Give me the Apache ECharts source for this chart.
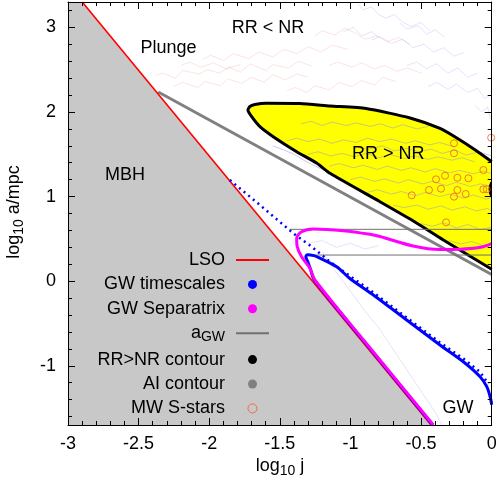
<!DOCTYPE html>
<html><head><meta charset="utf-8">
<script src="https://cdn.jsdelivr.net/npm/echarts@6/dist/echarts.min.js"></script>
<style>html,body{margin:0;padding:0;background:#fff}#c{width:503px;height:484px}</style>
</head><body><div id="c"></div>
<script>
// ---------- tick labels ----------
const yMajorTicks = [-1, 0, 1, 2, 3];
const yMinorTicks = [-1.6,-1.4,-1.2,-0.8,-0.6,-0.4,-0.2,0.2,0.4,0.6,0.8,1.2,1.4,1.6,1.8,2.2,2.4,2.6,2.8,3.2];
const legendNames = ['LSO','GW timescales','GW Separatrix','a_GW','RR>NR contour','AI contour','MW S-stars'];

// ---------- curves (log10 j, log10 a/mpc) ----------
const mbhRegion = [[-3,3.3],[-2.8993,3.3],[-0.4293,-1.7],[-3,-1.7]];
const lso = [[-2.8993,3.3],[-0.4293,-1.7]];
const aiContour = [[-2.361,2.236],[0,0.079]];
const rrTop = [[-1.712,2.065],[-1.677,2.088],[-1.594,2.103],[-1.358,2.100],[-1.145,2.071],[-0.890,2.041],[-0.578,1.929],[-0.366,1.805],[-0.247,1.692],[-0.106,1.539],[0,1.412]];
const rrBottom = [[0,0.140],[-0.342,0.487],[-0.555,0.711],[-0.791,0.939],[-1.145,1.275],[-1.240,1.397],[-1.381,1.531],[-1.547,1.708],[-1.641,1.826],[-1.698,1.941],[-1.726,2.023]];
const rrBlob = [[0,1.19],[-0.01,1.17],[-0.019,1.13],[-0.022,1.09],[-0.018,1.03],[-0.009,1.0],[0,0.99]];
const gwSeparatrix = [[-0.413,-1.7],[-0.908,-0.695],[-1.252,0.014],[-1.287,0.152],[-1.346,0.289],[-1.377,0.408],[-1.381,0.507],[-1.346,0.585],[-1.264,0.617],[-1.051,0.597],[-0.862,0.554],[-0.791,0.528],[-0.557,0.416],[-0.366,0.374],[-0.224,0.377],[-0.082,0.400],[0,0.445]];
const gwTimescale = [[-0.418,-1.7],[-0.912,-0.695],[-1.256,0.014],[-1.283,0.14],[-1.305,0.24],[-1.316,0.29],[-1.304,0.311],[-1.26,0.302],[-1.228,0.282],[-1.098,0.171],[-1.004,0.032],[-0.838,-0.163],[-0.602,-0.459],[-0.366,-0.754],[-0.201,-0.952],[-0.082,-1.129],[-0.035,-1.247],[-0.012,-1.36],[0,-1.46]];
const gwTimescaleDotted = [[-1.854,1.196],[-1.641,0.900],[-1.405,0.566],[-1.275,0.408],[-1.145,0.230],[-0.98,0.034],[-0.838,-0.133],[-0.602,-0.43],[-0.366,-0.725],[-0.201,-0.914],[-0.082,-1.073],[-0.023,-1.215]];
const aGwUpper = [[-1.43,0.613],[0,0.613]];
const aGwLower = [[-1.32,0.309],[0,0.309]];
const sStars = [[-0.267,1.630],[-0.267,1.512],[-0.004,1.696],[-0.059,1.314],[-0.330,1.247],[-0.394,1.204],[-0.243,1.223],[-0.165,1.216],[-0.444,1.078],[-0.359,1.093],[-0.243,1.078],[-0.267,0.999],[-0.184,1.031],[-0.059,1.086],[-0.035,1.086],[-0.566,1.015],[-0.323,0.696]];

// faint random-walk trajectories (read approximately)
const plungeTracks = [
 [[-2.38,2.43],[-2.33,2.46],[-2.24,2.4],[-2.19,2.49],[-2.07,2.45],[-2.01,2.5],[-1.93,2.46],[-1.86,2.53],[-1.78,2.47],[-1.71,2.57],[-1.6,2.49],[-1.55,2.56],[-1.44,2.52],[-1.37,2.6],[-1.27,2.54]],
 [[-2.25,2.3],[-2.19,2.35],[-2.08,2.29],[-2.03,2.36],[-1.92,2.31],[-1.87,2.39],[-1.77,2.34],[-1.7,2.41],[-1.61,2.35],[-1.55,2.44],[-1.46,2.38],[-1.38,2.45],[-1.3,2.41]],
 [[-2.05,2.62],[-1.99,2.67],[-1.9,2.61],[-1.83,2.69],[-1.72,2.63],[-1.65,2.71],[-1.55,2.65],[-1.47,2.74],[-1.38,2.69],[-1.3,2.77],[-1.21,2.71],[-1.13,2.79],[-1.02,2.74]],
 [[-1.45,2.25],[-1.39,2.29],[-1.31,2.23],[-1.25,2.31],[-1.15,2.26],[-1.08,2.35],[-0.99,2.3],[-0.92,2.37],[-0.83,2.32],[-0.77,2.41],[-0.68,2.36]],
 [[-1.25,2.9],[-1.2,2.96],[-1.11,2.91],[-1.04,2.99],[-0.96,2.93],[-0.9,2.86],[-0.81,2.9],[-0.74,2.83],[-0.66,2.88],[-0.58,2.8]],
 [[-2.2,2.55],[-2.14,2.59],[-2.06,2.53],[-1.97,2.58],[-1.88,2.51],[-1.78,2.56]],
 [[-1.15,2.55],[-1.09,2.59],[-0.99,2.53],[-0.92,2.58],[-0.83,2.51],[-0.76,2.55],[-0.67,2.48],[-0.6,2.52],[-0.5,2.46]]
];
const outerTracks = [
 [[-0.95,3.28],[-0.91,3.21],[-0.85,3.24],[-0.8,3.15],[-0.75,3.11],[-0.69,3.15],[-0.63,3.06],[-0.57,3.01],[-0.5,3.06],[-0.44,2.96]],
 [[-0.85,2.85],[-0.79,2.89],[-0.71,2.81],[-0.63,2.86],[-0.56,2.76],[-0.48,2.8],[-0.41,2.71],[-0.34,2.76],[-0.27,2.66],[-0.2,2.7]],
 [[-0.6,2.55],[-0.53,2.59],[-0.46,2.51],[-0.39,2.57],[-0.31,2.46],[-0.24,2.52],[-0.17,2.41],[-0.1,2.46]],
 [[-0.45,2.3],[-0.39,2.35],[-0.31,2.27],[-0.25,2.33],[-0.17,2.23],[-0.1,2.28],[-0.05,2.16],[-0.01,2.2]],
 [[-0.12,2.08],[-0.07,2.0],[-0.03,2.06],[-0.01,1.92]],
 [[-0.65,3.05],[-0.6,2.98],[-0.52,3.02],[-0.46,2.92],[-0.4,2.97],[-0.33,2.88]],
 [[-1.05,2.95],[-0.98,3.0],[-0.92,2.9],[-0.85,2.95],[-0.8,2.88]],
 [[-1.2,0.35],[-1.12,0.15],[-1.0,-0.12],[-0.9,-0.35],[-0.8,-0.55],[-0.7,-0.8],[-0.6,-1.05],[-0.5,-1.3],[-0.4,-1.55],[-0.35,-1.7]],
 [[-1.3,0.45],[-1.2,0.48],[-1.1,0.4],[-1.0,0.45],[-0.9,0.38],[-0.8,0.42]]
];
const innerTracks = [
 [[-1.35,1.86],[-1.28,1.89],[-1.2,1.84],[-1.13,1.88],[-1.03,1.84],[-0.96,1.87],[-0.86,1.83],[-0.79,1.86],[-0.7,1.81],[-0.63,1.85],[-0.53,1.8],[-0.45,1.83]],
 [[-1.45,1.66],[-1.38,1.69],[-1.3,1.65],[-1.22,1.68],[-1.13,1.63],[-1.05,1.67],[-0.96,1.64],[-0.88,1.69],[-0.79,1.65],[-0.71,1.68],[-0.61,1.63],[-0.54,1.66],[-0.44,1.61],[-0.37,1.64],[-0.27,1.59]],
 [[-1.3,1.5],[-1.23,1.53],[-1.14,1.48],[-1.06,1.51],[-0.97,1.47],[-0.89,1.51],[-0.8,1.46],[-0.72,1.5],[-0.62,1.45],[-0.55,1.48],[-0.45,1.44],[-0.38,1.47],[-0.28,1.43],[-0.21,1.46],[-0.12,1.41]],
 [[-1.15,1.36],[-1.08,1.39],[-0.98,1.34],[-0.91,1.37],[-0.81,1.32],[-0.74,1.36],[-0.64,1.31],[-0.57,1.34],[-0.47,1.29],[-0.4,1.33],[-0.3,1.28],[-0.23,1.31],[-0.13,1.27],[-0.06,1.3],[0,1.27]],
 [[-1.0,1.2],[-0.93,1.23],[-0.83,1.18],[-0.76,1.21],[-0.66,1.16],[-0.59,1.2],[-0.49,1.15],[-0.42,1.18],[-0.32,1.13],[-0.25,1.17],[-0.15,1.12],[-0.08,1.15],[0,1.12]],
 [[-0.88,1.05],[-0.81,1.08],[-0.71,1.03],[-0.64,1.06],[-0.54,1.01],[-0.47,1.05],[-0.37,1.0],[-0.3,1.03],[-0.2,0.98],[-0.13,1.02],[-0.04,0.97],[0,0.99]],
 [[-0.7,0.9],[-0.62,0.87],[-0.53,0.9],[-0.45,0.85],[-0.36,0.89],[-0.28,0.84],[-0.19,0.88],[-0.11,0.83],[-0.03,0.86],[0,0.83]],
 [[-0.5,0.68],[-0.42,0.65],[-0.34,0.69],[-0.25,0.63],[-0.17,0.67],[-0.08,0.61],[0,0.64]],
 [[-0.3,0.48],[-0.22,0.44],[-0.14,0.47],[-0.06,0.42],[0,0.44]],
 [[-0.95,1.58],[-0.87,1.56],[-0.77,1.6],[-0.69,1.54],[-0.6,1.57],[-0.52,1.53],[-0.43,1.56],[-0.35,1.51],[-0.26,1.55],[-0.18,1.49],[-0.09,1.53],[0,1.48]],
 [[-1.55,1.6],[-1.47,1.55],[-1.4,1.5],[-1.32,1.42],[-1.25,1.36],[-1.17,1.3],[-1.1,1.22]]
];

// ---------- chart ----------
const F = '"Liberation Sans", Arial, Helvetica, sans-serif';
const chart = echarts.init(document.getElementById('c'), null, {renderer: 'canvas'});

function polygonSeries(points, style, z) {
  return {
    type: 'custom', coordinateSystem: 'cartesian2d', clip: true, silent: true, z: z,
    data: [points[0]],
    renderItem: function (params, api) {
      return {type: 'polygon', shape: {points: points.map(p => api.coord(p))}, style: style};
    }
  };
}
function lineSeries(name, data, color, width, z, extra) {
  return Object.assign({
    type: 'line', name: name, data: data, showSymbol: false, symbol: 'none', silent: true,
    color: color, lineStyle: {color: color, width: width}, z: z, animation: false
  }, extra || {});
}

const series = [];
series.push(polygonSeries(mbhRegion, {fill: '#c8c8c8'}, 1));
series.push(polygonSeries(rrTop.concat(rrBottom), {fill: '#ffff00'}, 2));
plungeTracks.forEach(t => series.push(lineSeries(null, t, 'rgba(240,120,120,0.3)', 0.7, 3)));
outerTracks.forEach(t => series.push(lineSeries(null, t, 'rgba(120,120,235,0.3)', 0.7, 3)));
innerTracks.forEach(t => series.push(lineSeries(null, t, 'rgba(150,150,215,0.5)', 1, 3)));
series.push(lineSeries('AI contour', aiContour, '#808080', 3, 4));
series.push(lineSeries('RR>NR contour', rrBottom.concat(rrTop), '#000000', 3, 5, {smooth: 0.2}));
series.push(polygonSeries(rrBlob, {fill: '#000000'}, 5));
series.push(lineSeries('a_GW', aGwUpper, '#707070', 1, 6));
series.push(lineSeries('a_GW', aGwLower, '#707070', 1, 6));
series.push(lineSeries('LSO', lso, '#ff0000', 1.6, 6));
series.push(lineSeries('GW timescales', gwTimescaleDotted, '#0000ff', 2.5, 7, {lineStyle: {color: '#0000ff', width: 2.5, type: [2, 4]}}));
series.push(lineSeries('GW timescales', gwTimescale, '#0000ff', 3, 7, {smooth: 0.3}));
series.push(lineSeries('GW Separatrix', gwSeparatrix, '#ff00ff', 3, 8, {smooth: 0.3}));
series.push({
  type: 'scatter', name: 'MW S-stars', data: sStars, symbol: 'circle', symbolSize: 7, z: 9, silent: true,
  itemStyle: {color: 'rgba(0,0,0,0)', borderColor: '#f05a30', borderWidth: 1}
});

const axisLine = {show: true, onZero: false, lineStyle: {color: '#000', width: 1}};
const tickStyle = {color: '#000', width: 1};
const xCommon = {
  type: 'value', min: -3, max: 0, interval: 0.5, splitLine: {show: false}, axisLine: axisLine, z: 30,
  axisTick: {show: true, inside: true, length: 7, lineStyle: tickStyle},
  minorTick: {show: true, splitNumber: 5, length: 4, lineStyle: tickStyle}
};
const yCommon = {type: 'value', min: -1.7, max: 3.3, splitLine: {show: false}, z: 30};
const yMajor = pos => Object.assign({}, yCommon, {
  position: pos, axisLine: axisLine,
  axisTick: {show: true, inside: true, length: 7, lineStyle: tickStyle, customValues: yMajorTicks},
  axisLabel: pos === 'left' ? {show: true, customValues: yMajorTicks, fontSize: 18, fontFamily: F, color: '#000', margin: 12} : {show: false}
});
const yMinor = pos => Object.assign({}, yCommon, {
  position: pos, axisLine: {show: false, onZero: false},
  axisTick: {show: true, inside: true, length: 4, lineStyle: tickStyle, customValues: yMinorTicks},
  axisLabel: {show: false}
});
const hideSymbol = {color: 'rgba(0,0,0,0)', borderWidth: 0, opacity: 0};
const subRich = {sub: {fontSize: 14, fontFamily: F, fill: '#000', padding: [10, 0, 0, 0]}};
const textStyle = (t, extra) => Object.assign({text: t, fontSize: 18, fontFamily: F, fill: '#000', align: 'center', verticalAlign: 'middle'}, extra || {});

const option = {
  animation: false,
  grid: {left: 68, right: 11.3, top: 2, bottom: 59, containLabel: false},
  xAxis: [
    Object.assign({}, xCommon, {position: 'bottom', axisLabel: {fontSize: 18, fontFamily: F, color: '#000', margin: 10}}),
    Object.assign({}, xCommon, {position: 'top', axisLabel: {show: false}})
  ],
  yAxis: [yMajor('left'), yMinor('left'), yMajor('right'), yMinor('right')],
  legend: {
    orient: 'vertical', right: 228, top: 246, align: 'right', z: 30,
    itemWidth: 33, itemHeight: 9, itemGap: 6.4,
    selectedMode: false,
    textStyle: {fontSize: 18, fontFamily: F, color: '#000', lineHeight: 18, padding: [0, 6, 0, 0],
      rich: {sub: {fontSize: 14, fontFamily: F, color: '#000', padding: [8, 0, 0, 0]}}},
    formatter: n => n === 'a_GW' ? 'a{sub|GW}' : n,
    data: [
      {name: 'LSO', itemStyle: hideSymbol},
      {name: 'GW timescales', icon: 'circle', itemStyle: {color: '#0000ff', borderWidth: 0}},
      {name: 'GW Separatrix', icon: 'circle', itemStyle: {color: '#ff00ff', borderWidth: 0}},
      {name: 'a_GW', itemStyle: hideSymbol},
      {name: 'RR>NR contour', icon: 'circle', itemStyle: {color: '#000000', borderWidth: 0}},
      {name: 'AI contour', icon: 'circle', itemStyle: {color: '#808080', borderWidth: 0}},
      {name: 'MW S-stars', icon: 'circle', itemStyle: {color: 'rgba(0,0,0,0)', borderColor: '#f05a30', borderWidth: 1}}
    ]
  },
  graphic: [
    {type: 'text', x: 168.5, y: 48, z: 20, style: textStyle('Plunge')},
    {type: 'text', x: 268, y: 28.5, z: 20, style: textStyle('RR < NR')},
    {type: 'text', x: 125, y: 175.5, z: 20, style: textStyle('MBH')},
    {type: 'text', x: 388.3, y: 154, z: 20, style: textStyle('RR > NR')},
    {type: 'text', x: 458, y: 408.5, z: 20, style: textStyle('GW')},
    {type: 'text', x: 280, y: 466, z: 20, style: textStyle('log{sub|10} j', {rich: subRich})},
    {type: 'text', x: 14, y: 212, rotation: Math.PI / 2, z: 20, style: textStyle('log{sub|10} a/mpc', {rich: subRich})}
  ],
  series: series
};
chart.setOption(option);
</script></body></html>
